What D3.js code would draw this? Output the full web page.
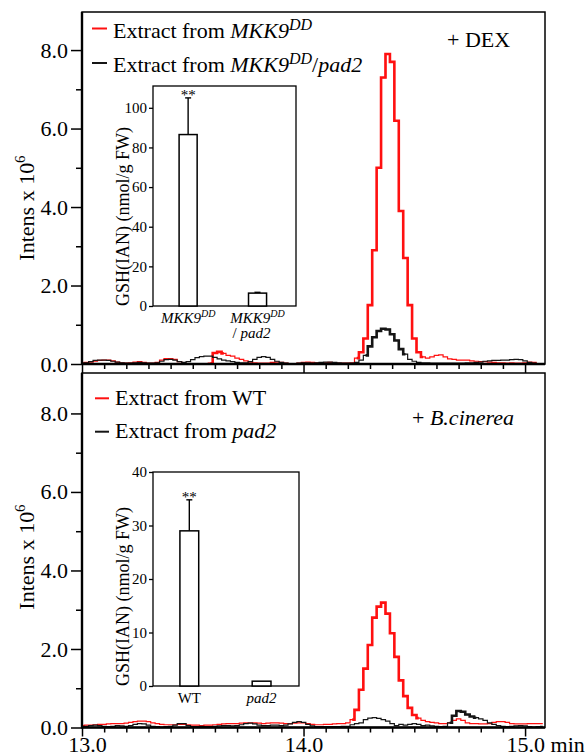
<!DOCTYPE html>
<html>
<head>
<meta charset="utf-8">
<script src="https://cdn.jsdelivr.net/npm/d3@7"></script>
<style>
  body { margin: 0; background: #fff; }
</style>
</head>
<body>
<div id="wrapper"></div>
<script>
// 1. Data (one value every 0.02 min from 13.00 min)

const sampleStart = 13.0
const sampleStep = 0.02

// + DEX, extract from MKK9DD (red)
const dexMKK9 = [
  0.03,0.04,0.05,0.07,0.09,0.10,0.10,0.08,0.05,0.03,
  0.02,0.03,0.05,0.06,0.04,0.02,0.02,0.04,0.10,0.14,
  0.14,0.12,0.06,0.02,0.01,0.01,0.00,0.00,0.00,0.02,
  0.28,0.31,0.27,0.22,0.20,0.15,0.12,0.08,0.05,0.03,
  0.02,0.02,0.02,0.04,0.05,0.04,0.02,0.01,0.01,0.02,
  0.04,0.05,0.04,0.03,0.02,0.03,0.04,0.03,0.02,0.02,
  0.02,0.03,0.15,0.30,0.65,1.50,2.90,5.00,7.30,7.90,
  7.70,6.20,3.90,2.70,1.50,0.65,0.30,0.18,0.15,0.18,
  0.22,0.23,0.18,0.13,0.12,0.10,0.10,0.10,0.08,0.07,
  0.06,0.06,0.05,0.04,0.03,0.03,0.02,0.03,0.02,0.02,
  0.03,0.05,0.04,0.01,0.00
]

// + DEX, extract from MKK9DD/pad2 (black)
const dexPad2 = [
  0.02,0.03,0.06,0.09,0.10,0.10,0.09,0.07,0.05,0.03,
  0.02,0.02,0.03,0.04,0.03,0.02,0.02,0.03,0.07,0.11,
  0.12,0.10,0.06,0.04,0.06,0.11,0.16,0.19,0.20,0.20,
  0.17,0.13,0.10,0.08,0.06,0.04,0.03,0.03,0.06,0.12,
  0.17,0.19,0.17,0.12,0.07,0.04,0.02,0.01,0.01,0.02,
  0.03,0.03,0.02,0.03,0.04,0.05,0.05,0.04,0.03,0.02,
  0.02,0.02,0.04,0.10,0.22,0.45,0.68,0.84,0.90,0.88,
  0.76,0.60,0.38,0.25,0.12,0.07,0.04,0.03,0.03,0.02,
  0.02,0.02,0.02,0.02,0.02,0.02,0.02,0.03,0.03,0.04,
  0.05,0.07,0.08,0.09,0.09,0.10,0.10,0.11,0.12,0.11,
  0.08,0.04,0.02,0.01,0.00
]

// + B.cinerea, extract from WT (red)
const bcWT = [
  0.05,0.06,0.06,0.07,0.08,0.08,0.09,0.10,0.10,0.10,
  0.11,0.13,0.15,0.16,0.16,0.15,0.12,0.10,0.08,0.07,
  0.07,0.07,0.08,0.08,0.07,0.06,0.06,0.05,0.06,0.06,
  0.07,0.08,0.09,0.10,0.10,0.10,0.11,0.12,0.12,0.12,
  0.11,0.10,0.11,0.12,0.12,0.11,0.10,0.10,0.11,0.12,
  0.12,0.10,0.08,0.07,0.07,0.08,0.08,0.09,0.10,0.10,
  0.12,0.20,0.45,0.96,1.50,2.10,2.80,3.08,3.18,2.90,
  2.40,1.80,1.20,0.80,0.50,0.32,0.24,0.18,0.15,0.13,
  0.12,0.10,0.10,0.12,0.18,0.22,0.18,0.12,0.10,0.10,
  0.09,0.09,0.10,0.13,0.15,0.15,0.13,0.10,0.09,0.09,
  0.09,0.10,0.10,0.10,0.10
]

// + B.cinerea, extract from pad2 (black)
const bcPad2 = [
  0.02,0.03,0.05,0.06,0.05,0.03,0.02,0.03,0.05,0.04,
  0.03,0.05,0.08,0.10,0.09,0.06,0.03,0.02,0.01,0.02,
  0.03,0.06,0.10,0.10,0.05,0.02,0.02,0.03,0.02,0.02,
  0.03,0.04,0.05,0.05,0.04,0.05,0.07,0.10,0.11,0.09,
  0.06,0.05,0.05,0.06,0.06,0.05,0.06,0.09,0.13,0.15,
  0.13,0.08,0.04,0.02,0.02,0.02,0.02,0.02,0.02,0.03,
  0.03,0.07,0.10,0.12,0.20,0.24,0.25,0.23,0.20,0.16,
  0.10,0.05,0.08,0.06,0.08,0.10,0.08,0.05,0.06,0.04,
  0.03,0.02,0.03,0.12,0.30,0.42,0.40,0.33,0.28,0.25,
  0.22,0.18,0.12,0.08,0.05,0.03,0.02,0.03,0.04,0.05,
  0.04,0.02,0.01,0.02,0.03
]

// inset bar charts: GSH(IAN) in nmol/g FW
const dexGroups = ["MKK9DD", "MKK9DD/pad2"]
const dexGSH = [86.5, 6.5]
const dexGSHErr = [18.5, 0.4]
const dexStars = ["**", ""]

const bcGroups = ["WT", "pad2"]
const bcGSH = [29.0, 0.9]
const bcGSHErr = [5.8, 0]
const bcStars = ["**", ""]

// tick values
const intensTicks = [0, 2, 4, 6, 8]
const intensMinorTicks = [1, 3, 5, 7]
const timeTicks = [13, 14, 15]
const dexInsetTicks = [0, 20, 40, 60, 80, 100]
const bcInsetTicks = [0, 10, 20, 30, 40]

// 2. Dimensions

const dimensions = { width: 586, height: 756 }
const red = "#ff1010"
const black = "#151515"
const serif = '"Liberation Serif", "Times New Roman", Times, "DejaVu Serif", serif'

const times = dexMKK9.map((d, i) => sampleStart + i * sampleStep)

const xScale = d3.scaleLinear()
  .domain([13, 15.09])
  .range([82, 545])

// 3. Canvas

const svg = d3.select("#wrapper")
  .append("svg")
    .attr("width", dimensions.width)
    .attr("height", dimensions.height)
    .style("font-family", serif)

// text made of parts: [string, flags] with i = italic, s = superscript
function richText(text, parts, supSize, supShift) {
  let shifted = false
  text.style("font-family", serif)
  parts.forEach(([s, f]) => {
    const t = text.append("tspan").text(s)
    if (f.includes("i")) t.attr("font-style", "italic")
    if (f.includes("s")) {
      t.attr("font-size", supSize).attr("dy", -supShift)
      shifted = true
    } else if (shifted) {
      t.attr("dy", supShift)
      shifted = false
    }
  })
  return text
}

const panels = [
  {
    id: "dex", top: 12, bottom: 364, yMax: 8.97, labelY: 208, xLabels: false,
    series: [{ values: dexMKK9, color: red }, { values: dexPad2, color: black }],
    legend: [
      { color: red, x1: 92, x2: 107, y: 28.5, tx: 113, ty: 37.5,
        parts: [["Extract from ", ""], ["MKK9", "i"], ["DD", "is"]] },
      { color: black, x1: 92, x2: 107, y: 63, tx: 113, ty: 72,
        parts: [["Extract from ", ""], ["MKK9", "i"], ["DD", "is"], ["/", ""], ["pad2", "i"]] }
    ],
    tag: { x: 447, y: 47, parts: [["+ DEX", ""]] },
    inset: {
      left: 153, right: 296, top: 86, bottom: 306, yMax: 111,
      ticks: dexInsetTicks, groups: dexGroups, values: dexGSH, errors: dexGSHErr, stars: dexStars,
      padIn: 0.74, padOut: 0.4, align: 0.47, labelY: 323,
      labels: [
        [[["MKK9", "i"], ["DD", "is"]]],
        [[["MKK9", "i"], ["DD", "is"]], [["/ ", ""], ["pad2", "i"]]]
      ]
    }
  },
  {
    id: "bc", top: 373, bottom: 727.5, yMax: 9.03, labelY: 557, xLabels: true,
    series: [{ values: bcWT, color: red }, { values: bcPad2, color: black }],
    legend: [
      { color: red, x1: 95, x2: 109, y: 398.3, tx: 115, ty: 405,
        parts: [["Extract from WT", ""]] },
      { color: black, x1: 95, x2: 109, y: 431.7, tx: 115, ty: 438.3,
        parts: [["Extract from ", ""], ["pad2", "i"]] }
    ],
    tag: { x: 412, y: 425, parts: [["+ ", ""], ["B.cinerea", "i"]] },
    inset: {
      left: 153, right: 299, top: 472, bottom: 686, yMax: 40,
      ticks: bcInsetTicks, groups: bcGroups, values: bcGSH, errors: bcGSHErr, stars: bcStars,
      padIn: 0.74, padOut: 0.38, align: 0.49, labelY: 703,
      labels: [
        [[["WT", ""]]],
        [[["pad2", "i"]]]
      ]
    }
  }
]

// 4. Draw each chromatogram panel

panels.forEach(p => {
  const [x0, x1] = xScale.range()
  const yScale = d3.scaleLinear()
    .domain([0, p.yMax])
    .range([p.bottom, p.top])

  const g = svg.append("g")

  g.append("clipPath")
      .attr("id", "clip-" + p.id)
    .append("rect")
      .attr("x", x0)
      .attr("y", p.top)
      .attr("width", x1 - x0)
      .attr("height", p.bottom - p.top)

  // traces
  const line = d3.line()
    .x(d => xScale(d.t))
    .y(d => yScale(d.v))
    .curve(d3.curveStep)

  p.series.forEach(s => {
    const pts = s.values.map((v, i) => ({ t: times[i], v }))
    g.append("path")
      .datum(pts)
      .attr("d", line)
      .attr("fill", "none")
      .attr("stroke", s.color)
      .attr("stroke-width", 1.2)
      .attr("clip-path", `url(#clip-${p.id})`)
    // heavier stroke over the peaks
    const heavy = (d, i) => [i - 1, i, i + 1].some(j => pts[j] && pts[j].v >= 0.28)
    g.append("path")
      .datum(pts)
      .attr("d", line.defined(heavy))
      .attr("fill", "none")
      .attr("stroke", s.color)
      .attr("stroke-width", 2.6)
      .attr("clip-path", `url(#clip-${p.id})`)
    line.defined(() => true)
  })

  // frame
  g.append("rect")
    .attr("x", x0)
    .attr("y", p.top)
    .attr("width", x1 - x0)
    .attr("height", p.bottom - p.top)
    .attr("fill", "none")
    .attr("stroke", "#000")
    .attr("stroke-width", 1.5)

  // y axis
  const yAxis = g.append("g")
    .attr("transform", `translate(${x0},0)`)
    .call(d3.axisLeft(yScale).tickValues(intensTicks).tickSize(11).tickPadding(3).tickFormat(d3.format(".1f")))
    .attr("font-family", serif)
    .attr("font-size", 22)
  yAxis.select(".domain").remove()
  yAxis.selectAll("text").attr("fill", "#000").style("font-family", serif)

  const yMinor = g.append("g")
    .attr("transform", `translate(${x0},0)`)
    .call(d3.axisLeft(yScale).tickValues(intensMinorTicks).tickSize(6).tickFormat(""))
  yMinor.select(".domain").remove()

  // x axis
  const xAxis = g.append("g")
    .attr("transform", `translate(0,${p.bottom})`)
    .call(d3.axisBottom(xScale).tickValues(timeTicks).tickSize(9).tickPadding(0)
      .tickFormat(p.xLabels ? d3.format(".1f") : ""))
    .attr("font-family", serif)
    .attr("font-size", 22)
  xAxis.select(".domain").remove()
  xAxis.selectAll("text").attr("fill", "#000").style("font-family", serif)
  if (p.xLabels) {
    xAxis.selectAll(".tick")
      .filter(d => d === 13)
      .select("text")
        .attr("x", 5)
    xAxis.selectAll(".tick")
      .filter(d => d === 15)
      .select("text")
        .attr("text-anchor", "start")
        .attr("x", -19)
        .append("tspan").text(" min")
  }

  const xMinor = g.append("g")
    .attr("transform", `translate(0,${p.bottom})`)
    .call(d3.axisBottom(xScale)
      .tickValues(d3.range(131, 151).map(d => d / 10).filter(d => d % 1 !== 0))
      .tickSize(5).tickFormat(""))
  xMinor.select(".domain").remove()

  g.selectAll(".tick line").attr("stroke-width", 1.5)

  // heavy spines
  g.append("line")
    .attr("x1", x0).attr("x2", x0)
    .attr("y1", p.top).attr("y2", p.bottom + 1)
    .attr("stroke", "#000").attr("stroke-width", 2.4)
  g.append("line")
    .attr("x1", x0).attr("x2", x1)
    .attr("y1", p.bottom).attr("y2", p.bottom)
    .attr("stroke", "#000").attr("stroke-width", 2.4)

  // y label
  richText(
    g.append("text")
      .attr("transform", `translate(34,${p.labelY}) rotate(-90)`)
      .attr("text-anchor", "middle")
      .attr("font-size", 22)
      .attr("fill", "#000"),
    [["Intens x 10", ""], ["6", "s"]], 15, 9)

  // legend
  p.legend.forEach(l => {
    g.append("line")
      .attr("x1", l.x1).attr("x2", l.x2)
      .attr("y1", l.y).attr("y2", l.y)
      .attr("stroke", l.color)
      .attr("stroke-width", 2)
    richText(
      g.append("text")
        .attr("x", l.tx)
        .attr("y", l.ty)
        .attr("font-size", 22)
        .attr("fill", "#000"),
      l.parts, 16, 8)
  })

  richText(
    g.append("text")
      .attr("x", p.tag.x)
      .attr("y", p.tag.y)
      .attr("font-size", 22)
      .attr("fill", "#000"),
    p.tag.parts, 16, 8)

  drawInset(g, p.inset)
})

// 5. Inset bar charts

function drawInset(g, ins) {
  const yScale = d3.scaleLinear()
    .domain([0, ins.yMax])
    .range([ins.bottom, ins.top])

  const xScale = d3.scaleBand()
    .domain(ins.groups)
    .range([ins.left, ins.right])
    .paddingInner(ins.padIn)
    .paddingOuter(ins.padOut)
    .align(ins.align)

  const inset = g.append("g")

  inset.append("rect")
    .attr("x", ins.left)
    .attr("y", ins.top)
    .attr("width", ins.right - ins.left)
    .attr("height", ins.bottom - ins.top)
    .attr("fill", "#fff")
    .attr("stroke", "#000")
    .attr("stroke-width", 1.3)

  const rows = ins.groups.map((k, i) => ({
    k, v: ins.values[i], e: ins.errors[i], star: ins.stars[i], label: ins.labels[i]
  }))

  // error bars
  rows.filter(d => d.e > 0).forEach(d => {
    const cx = xScale(d.k) + xScale.bandwidth() / 2
    inset.append("line")
      .attr("x1", cx).attr("x2", cx)
      .attr("y1", yScale(d.v)).attr("y2", yScale(d.v + d.e))
      .attr("stroke", "#000").attr("stroke-width", 1.4)
    inset.append("line")
      .attr("x1", cx - 3).attr("x2", cx + 3)
      .attr("y1", yScale(d.v + d.e)).attr("y2", yScale(d.v + d.e))
      .attr("stroke", "#000").attr("stroke-width", 1.4)
  })

  inset.selectAll("rect.bar")
    .data(rows)
    .enter().append("rect")
      .attr("class", "bar")
      .attr("x", d => xScale(d.k))
      .attr("y", d => yScale(d.v))
      .attr("width", xScale.bandwidth())
      .attr("height", d => yScale(0) - yScale(d.v))
      .attr("fill", "#fff")
      .attr("stroke", "#000")
      .attr("stroke-width", 1.5)

  inset.selectAll("text.star")
    .data(rows.filter(d => d.star))
    .enter().append("text")
      .attr("class", "star")
      .attr("x", d => xScale(d.k) + xScale.bandwidth() / 2)
      .attr("y", d => yScale(d.v + d.e) + 2.5)
      .attr("text-anchor", "middle")
      .attr("font-size", 15)
      .attr("fill", "#000")
      .style("font-family", serif)
      .text(d => d.star)

  // category labels
  rows.forEach(d => {
    const cx = xScale(d.k) + xScale.bandwidth() / 2
    d.label.forEach((parts, li) => {
      richText(
        inset.append("text")
          .attr("x", cx - (li > 0 ? 6 : 0))
          .attr("y", ins.labelY + li * 15)
          .attr("text-anchor", "middle")
          .attr("font-size", 15)
          .attr("fill", "#000"),
        parts, 10, 6)
    })
  })

  const yAxis = inset.append("g")
    .attr("transform", `translate(${ins.left},0)`)
    .call(d3.axisLeft(yScale).tickValues(ins.ticks).tickSize(4).tickPadding(2))
    .attr("font-family", serif)
    .attr("font-size", 15)
  yAxis.select(".domain").remove()
  yAxis.selectAll("text").attr("fill", "#000").style("font-family", serif)
  yAxis.selectAll("line").attr("stroke-width", 1.3)

  inset.append("text")
    .attr("transform", `translate(129,${ins.bottom}) rotate(-90)`)
    .attr("text-anchor", "start")
    .attr("font-size", 18)
    .attr("fill", "#000")
    .style("font-family", serif)
    .text("GSH(IAN) (nmol/g FW)")
}
</script>
</body>
</html>
